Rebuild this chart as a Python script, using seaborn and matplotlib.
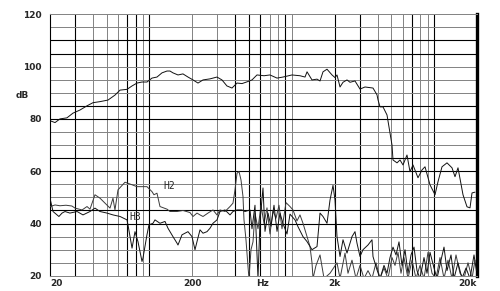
import numpy as np
import pandas as pd
import matplotlib
matplotlib.use("Agg")
import matplotlib.pyplot as plt
import seaborn as sns

# ---- data (Hz, dB) ----
resp_f = [20, 21.7, 23.5, 26.3, 29.0, 32.5, 36.4, 40.1, 44.9, 51.1, 57.2, 62.1, 69.5, 75.4, 81.7, 88.6,
          96.0, 104.1, 112.9, 122.4, 132.7, 139.3, 146.2, 158.6, 171.9, 186.4, 202.2, 219.2, 237.7, 266,
          298, 323, 350, 380, 412, 447, 492, 525, 569, 638, 702, 787, 867, 1003, 1141, 1238, 1279, 1386,
          1503, 1578, 1656, 1767, 1916, 2011, 2077, 2181, 2289, 2442, 2563, 2779, 3013, 3267, 3718, 3967,
          4032, 4164, 4371, 4664, 4896, 5057, 5139, 5483, 5755, 6041, 6445, 6766, 7102, 7700, 8216, 8624,
          9351, 10139, 10643, 11355, 12311, 13348, 14012, 14708, 15948, 17015, 17861, 18449, 19366]
resp_db = [79.3, 78.6, 80, 80.4, 82.2, 83.4, 85, 86.2, 86.6, 87.2, 89.1, 91, 91.3, 92.6, 93.7, 94.1,
           94.1, 95.6, 96, 97.6, 98.3, 98.3, 97.6, 96.8, 97.2, 96, 94.9, 93.7, 94.9, 95.3,
           96, 94.9, 92.6, 91.8, 93.7, 93.5, 94.3, 94.9, 96.8, 96.5, 96.8, 95.6, 96, 96.8, 96.5, 96, 98, 94.9,
           95.2, 94.5, 98, 99, 96.8, 95.8, 96.8, 92.2, 94, 94.9, 94, 94.5, 91.4, 92.2, 91.8, 89.2,
           87.3, 84.6, 84.6, 81.5, 74.6, 70, 64.3, 63.2, 64.3, 62.4, 66.2, 59.8, 62.4, 57.5, 60.5, 61.7,
           54.8, 51, 56, 61.7, 63.2, 61.3, 57.9, 61.3, 51, 46.4, 46, 51.7, 52]

h2_f = [20, 21.7, 23.5, 25.9, 28.5, 30.0, 33.6, 36.4, 38.2, 41.4, 44.9, 48.7, 52.8, 55.4, 57.2, 60.1,
        67.3, 70.6, 81.7, 96.0, 104.1, 107.5, 112.9, 118.5, 132.7, 139.3, 156.1, 171.9, 192.6, 202.2,
        215.7, 226.4, 237.7, 257.6, 279.3, 298, 312.9, 339.2, 367.8, 386, 398.8, 412, 425.5, 439.4,
        453.9, 461.3, 476.4, 492, 500, 516.6, 533.6, 551, 578.5, 607.3, 638, 669.2, 702.5, 737.4, 774.1,
        812.7, 853.1, 910, 970.9, 1019, 1087, 1141, 1198, 1279, 1342, 1386, 1409, 1479, 1578, 1684, 1855,
        2077, 2181, 2364, 2481, 2647, 2824, 3013, 3215, 3429, 3659, 3904, 4164, 4443, 4739, 5057, 5308,
        5572, 5849, 6140, 6550, 6989, 7456, 7954, 8486, 9053, 9659, 10304, 10993, 11728, 12511, 13348,
        14240, 15193, 16209, 17292, 18449, 19366]
h2_db = [46.5, 47.1, 46.8, 47, 46.7, 45.9, 45.2, 46.5, 45.5, 51, 49.7, 47.8, 45.9, 49.7, 45.2, 52.9,
         55.8, 55.4, 54.1, 54.1, 52.2, 51, 51.6, 46.5, 45.5, 44.6, 44.6, 45, 44.2, 42.7,
         44, 43.3, 42.7, 44, 45.2, 43.3, 45.2, 44.6, 46.5, 47.8, 52.9, 59.2, 59.9, 56.7,
         50.3, 41.4, 33.8, 23.6, 19, 30, 33, 44, 38, 47, 40, 46, 36, 45, 42,
         47, 38, 48, 46.5, 45.2, 41, 43.3, 40.1, 35, 31.2, 25, 19, 24, 28, 19, 21,
         25, 19, 28.7, 21, 26, 19, 24, 19, 22, 19, 25, 19, 23, 19, 27, 24,
         29, 21, 27, 19, 26, 19, 24, 19, 29, 21, 19, 27, 19, 26, 19,
         28, 21, 19, 25, 19, 26]

h3_f = [20, 21.0, 23.1, 24.3, 25.5, 27.6, 31.0, 34.1, 38.2, 41.4, 44.9, 50.3, 55.4, 62.1, 69.5, 70.6,
        75.4, 79.1, 83.0, 88.6, 90.0, 96.0, 99.2, 105.8, 109.3, 118.5, 128.5, 134.9, 146.2, 156.1, 158.6,
        169.2, 177.6, 186.4, 198.9, 208.8, 215.7, 226.4, 237.7, 253.5, 266.1, 279.3, 298, 312.9, 339.2,
        367.8, 386, 412, 447, 468.8, 508.3, 525, 551.1, 578.5, 597.6, 627.3, 647.9, 680.1, 714, 749.5,
        787, 825.9, 867, 924.9, 970.9, 1052.7, 1105, 1198, 1279, 1386, 1503, 1578, 1656, 1767, 1855,
        1947, 2011, 2077, 2181, 2289, 2442, 2647, 2779, 2870, 3013, 3163, 3429, 3659, 3718, 3967, 4164,
        4443, 4664, 4896, 5139, 5395, 5663, 5944, 6240, 6550, 6876, 7219, 7577, 7954, 8486, 8908, 9351,
        9977, 10473, 11172, 11728, 12311, 13134, 13788, 14708, 15693, 16741, 17861, 19056, 19800]
h3_db = [49.7, 44.6, 42.7, 44, 44.6, 44, 44.6, 43.3, 44.6, 45.9, 44.6, 44, 43.3, 42.7, 41.4, 39.5,
         30.6, 36.9, 33.1, 25.5, 26.8, 35.7, 39.5, 40.1, 41.4, 40.1, 40.8, 38.2, 35, 32.5, 31.8,
         35.7, 36.3, 36.9, 35, 30, 33.1, 37.6, 36.3, 36.9, 38.2, 40.1, 41.4, 44.6, 45.2,
         43.3, 44.6, 45.2, 45.2, 44.6, 45.2, 38, 47, 19, 41, 53.6, 37, 44, 39, 47,
         37, 44, 40, 36, 43.6, 41.4, 38.8, 35, 33.1, 30, 31.2, 44, 42.7, 40.1, 49,
         54.6, 49, 35, 27.4, 33.8, 28.7, 35, 36.9, 32.5, 27.4, 30, 31.8, 33.8, 27.4, 22.3, 19,
         24, 21, 27, 31, 28, 33, 24, 30, 21, 28, 31, 22, 19, 27, 21, 29,
         23, 19, 26, 31, 22, 28, 19, 25, 19, 23, 19, 28, 22]

y_ticks = [20, 40, 60, 80, 100, 120]
x_tick_pos = [20, 200, 620, 2000, 20000]
x_tick_lab = ["20", "200", "Hz", "2k", "20k"]

# ---- figure ----
sns.set_style("white")
plt.rcParams['font.family'] = ['DejaVu Sans']
fig = plt.figure(figsize=(5.0, 2.91), dpi=100)
ax = fig.add_axes([0.1, 0.052, 0.854, 0.899])
ax.set_xscale('log')
ax.set_xlim(20, 20000)
ax.set_ylim(20, 120)

# grid (black / gray as in the reference bitmap)
dark_v = [30, 70, 80, 100, 400, 500, 600, 900, 2000, 3000, 7000, 10000]
light_v = [40, 50, 60, 90, 200, 300, 700, 800, 1000, 4000, 5000, 6000, 8000, 9000]
for v in light_v:
    ax.axvline(v, color='#858585', lw=0.72, zorder=1)
for v in dark_v:
    ax.axvline(v, color='black', lw=0.8, zorder=1)
dark_h = [110, 105, 85, 80, 65, 60, 45, 40]
light_h = [115, 100, 95, 90, 75, 70, 55, 50, 35, 30, 25]
for h in light_h:
    ax.axhline(h, color='#858585', lw=0.72, zorder=1)
for h in dark_h:
    ax.axhline(h, color='black', lw=0.8, zorder=1)

df_r = pd.DataFrame({'f': resp_f, 'db': resp_db})
df_2 = pd.DataFrame({'f': h2_f, 'db': h2_db})
df_3 = pd.DataFrame({'f': h3_f, 'db': h3_db})
sns.lineplot(data=df_2, x='f', y='db', ax=ax, color='#3a3a3a', lw=0.7, estimator=None, sort=False, zorder=3)
sns.lineplot(data=df_3, x='f', y='db', ax=ax, color='#111111', lw=0.7, estimator=None, sort=False, zorder=3)
sns.lineplot(data=df_r, x='f', y='db', ax=ax, color='#111111', lw=0.7, estimator=None, sort=False, zorder=4)

ax.text(138, 54.3, "H2", fontsize=7, fontfamily='DejaVu Sans Mono', ha='center', va='center', zorder=5)
ax.text(80, 42.5, "H3", fontsize=7, fontfamily='DejaVu Sans Mono', ha='center', va='center', zorder=5)

ax.set_xlabel('')
ax.set_ylabel('')
ax.set_yticks(y_ticks)
ax.set_yticklabels([str(t) for t in y_ticks], fontsize=6.5, fontweight='bold')
ax.set_xticks(x_tick_pos)
ax.set_xticklabels(x_tick_lab, fontsize=6.5, fontweight='bold')
ax.xaxis.set_minor_locator(matplotlib.ticker.NullLocator())
ax.tick_params(axis='both', length=0)
ax.tick_params(axis='y', pad=6)
ax.tick_params(axis='x', pad=2)
xl = ax.get_xticklabels()
xl[0].set_horizontalalignment('left')
xl[-1].set_horizontalalignment('right')
ax.text(-0.065, 0.69, "dB", transform=ax.transAxes, fontsize=6.5, fontweight='bold',
        ha='center', va='center')

for s in ['top', 'bottom']:
    ax.spines[s].set_color('#858585')
    ax.spines[s].set_linewidth(0.72)
ax.spines['left'].set_color('black')
ax.spines['left'].set_linewidth(0.8)
ax.spines['right'].set_color('black')
ax.spines['right'].set_linewidth(2.4)

fig.savefig('out.png', dpi=100)
